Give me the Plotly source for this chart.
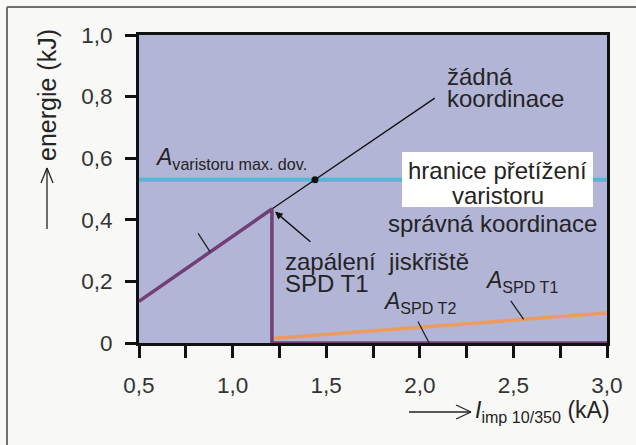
import plotly.graph_objects as go

# --- data -----------------------------------------------------------------
# A_SPD T1: rises until the spark gap fires, then drops to zero
spd_t1_x = [0.5, 1.21, 1.21, 3.0]
spd_t1_y = [0.135, 0.435, 0.0, 0.0]

# A_SPD T2: energy in the varistor after spark-gap ignition
spd_t2_x = [1.21, 3.0]
spd_t2_y = [0.015, 0.097]

# varistor max. permissible energy
varistor_limit = 0.53
limit_x = [0.5, 3.0]

# no coordination: continuation of the T1 slope beyond ignition
no_coord_x = [1.21, 2.08]
no_coord_y = [0.435, 0.795]

# overload point (crossing with the varistor limit)
overload_x = [1.44]
overload_y = [0.53]

x_ticks = [0.5, 0.75, 1.0, 1.25, 1.5, 1.75, 2.0, 2.25, 2.5, 2.75, 3.0]
x_ticktext = ["0,5", "", "1,0", "", "1,5", "", "2,0", "", "2,5", "", "3,0"]
y_ticks = [0.0, 0.2, 0.4, 0.6, 0.8, 1.0]
y_ticktext = ["0", "0,2", "0,4", "0,6", "0,8", "1,0"]

# --- style ----------------------------------------------------------------
W, H = 636, 445
ML, MR, MT, MB = 139, 29, 35, 102
PW, PH = W - ML - MR, H - MT - MB

PURPLE = "#6f3f75"
ORANGE = "#ec9b5e"
BLUE = "#5ab4d8"
PLOT_BG = "#b3b5d6"
PAPER_BG = "#f8f9f6"
TEXT = "#242424"
FONT = "Liberation Sans, Arial, Helvetica, sans-serif"


def paper(px, py):
    """Page pixel position -> paper coordinates."""
    return (px - ML) / PW, (H - MB - py) / PH


def to_data(px, py):
    """Page pixel position -> data coordinates."""
    fx, fy = paper(px, py)
    return 0.5 + fx * 2.5, fy * 1.0


fig = go.Figure()

fig.add_trace(go.Scatter(x=limit_x, y=[varistor_limit] * len(limit_x), mode="lines",
                         line=dict(color=BLUE, width=4), hoverinfo="skip"))
fig.add_trace(go.Scatter(x=spd_t2_x, y=spd_t2_y, mode="lines",
                         line=dict(color=ORANGE, width=3.5), hoverinfo="skip"))
fig.add_trace(go.Scatter(x=no_coord_x, y=no_coord_y, mode="lines",
                         line=dict(color="#111111", width=1.3), hoverinfo="skip"))
fig.add_trace(go.Scatter(x=spd_t1_x, y=spd_t1_y, mode="lines",
                         line=dict(color=PURPLE, width=3.5), hoverinfo="skip"))
fig.add_trace(go.Scatter(x=overload_x, y=overload_y, mode="markers",
                         marker=dict(color="#111111", size=7), hoverinfo="skip"))

shapes = []

# outer frame of the figure
for (x0, y0, x1, y1) in [(7, 7, 640, 7), (7, 7, 7, 450)]:
    a, b = paper(x0, y0)
    c, d = paper(x1, y1)
    shapes.append(dict(type="line", xref="paper", yref="paper", x0=a, y0=b, x1=c, y1=d,
                       line=dict(color="#6f6f6f", width=2)))

# white box behind the overload label
bx0, by0 = to_data(402, 207)
bx1, by1 = to_data(593, 152)
shapes.append(dict(type="rect", xref="x", yref="y", x0=bx0, y0=by0, x1=bx1, y1=by1,
                   fillcolor="white", line=dict(width=0), layer="above"))

# axis-title arrows
arrow_segments = [
    # y-axis arrow (pointing up)
    ((47, 229), (47, 168)), ((47, 168), (41, 183)), ((47, 168), (53, 183)),
    # x-axis arrow (pointing right)
    ((409, 412), (471, 412)), ((471, 412), (456, 405)), ((471, 412), (456, 419)),
]
for (p0, p1) in arrow_segments:
    a, b = paper(*p0)
    c, d = paper(*p1)
    shapes.append(dict(type="line", xref="paper", yref="paper", x0=a, y0=b, x1=c, y1=d,
                       line=dict(color="#222222", width=1.3)))

annotations = []


def label(text, px, py, size=24, xanchor="left"):
    x, y = to_data(px, py)
    annotations.append(dict(x=x, y=y, xref="x", yref="y", text=text, showarrow=False,
                            xanchor=xanchor, yanchor="middle",
                            font=dict(family=FONT, size=size, color=TEXT)))


label("žádná", 445, 76)
label("koordinace", 445, 98)
label("hranice přetížení", 497.5, 170, xanchor="center")
label("varistoru", 497.5, 195, xanchor="center")
label("správná koordinace", 492.5, 223, xanchor="center")
label("<i>A</i><sub>varistoru max. dov.</sub>", 153, 158, size=23)
label("zapálení\u00a0\u00a0jiskřiště", 283, 261)
label("SPD T1", 283, 283)
label("<i>A</i><sub>SPD T2</sub>", 381, 302, size=23)
label("<i>A</i><sub>SPD T1</sub>", 483, 281, size=23)


def t1_at(x):
    """Value of the rising part of A_SPD T1 at x."""
    (x0, x1), (y0, y1) = spd_t1_x[:2], spd_t1_y[:2]
    return y0 + (y1 - y0) * (x - x0) / (x1 - x0)


def t2_at(x):
    (x0, x1), (y0, y1) = spd_t2_x, spd_t2_y
    return y0 + (y1 - y0) * (x - x0) / (x1 - x0)


# short leader strokes pointing at the curves
for (x, y, ax, ay) in [(0.88, t1_at(0.88), -13, -20),
                       (2.05, 0.0, -12, -23),
                       (2.555, t2_at(2.555), -14, -20)]:
    annotations.append(dict(x=x, y=y, xref="x", yref="y", ax=ax, ay=ay, text="",
                            showarrow=True, arrowhead=0, arrowwidth=1.3,
                            arrowcolor="#222222"))

# arrow marking the spark-gap ignition point
annotations.append(dict(x=spd_t1_x[1], y=spd_t1_y[1], xref="x", yref="y", ax=40, ay=34,
                        text="", showarrow=True, arrowhead=2, arrowsize=1.1,
                        arrowwidth=1.4, arrowcolor="#111111", standoff=4))

# axis titles
ytx, yty = paper(47, 95)
annotations.append(dict(x=ytx, y=yty, xref="paper", yref="paper", text="energie (kJ)",
                        textangle=-90, showarrow=False, xanchor="center", yanchor="middle",
                        font=dict(family=FONT, size=25, color=TEXT)))
xtx, xty = paper(473, 411)
annotations.append(dict(x=xtx, y=xty, xref="paper", yref="paper",
                        text="<i>I</i><sub>imp 10/350</sub> (kA)",
                        showarrow=False, xanchor="left", yanchor="middle",
                        font=dict(family=FONT, size=23, color=TEXT)))

fig.update_layout(
    width=W, height=H,
    margin=dict(l=ML, r=MR, t=MT, b=MB),
    paper_bgcolor=PAPER_BG,
    plot_bgcolor=PLOT_BG,
    showlegend=False,
    shapes=shapes,
    annotations=annotations,
)

fig.update_xaxes(range=[0.5, 3.0], tickvals=x_ticks, ticktext=x_ticktext,
                 ticks="outside", ticklen=12, tickwidth=3, tickcolor="#111111",
                 showline=True, linecolor="#111111", linewidth=3, mirror=True,
                 showgrid=False, zeroline=False, layer="below traces",
                 ticklabelstandoff=8,
                 tickfont=dict(family=FONT, size=22.5, color="#333333"))
fig.update_yaxes(range=[0.0, 1.0], tickvals=y_ticks, ticktext=y_ticktext,
                 ticks="outside", ticklen=11, tickwidth=3, tickcolor="#111111",
                 showline=True, linecolor="#111111", linewidth=3, mirror=True,
                 showgrid=False, zeroline=False, layer="below traces",
                 ticklabelstandoff=8,
                 tickfont=dict(family=FONT, size=22.5, color="#333333"))

fig.write_html("out.html")
